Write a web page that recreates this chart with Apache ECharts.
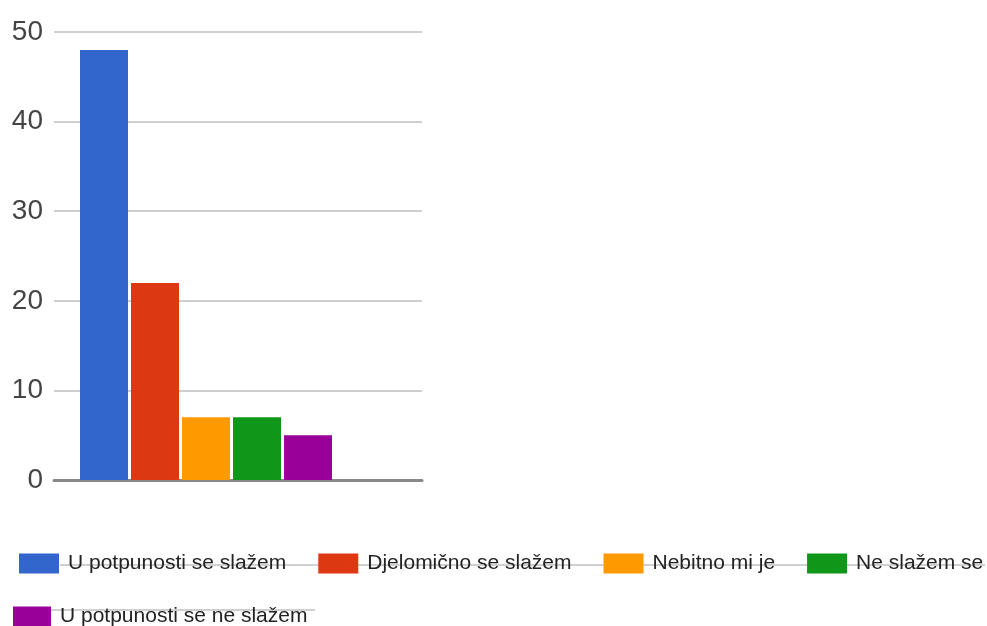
<!DOCTYPE html>
<html><head><meta charset="utf-8">
<script src="https://cdn.jsdelivr.net/npm/echarts@6/dist/echarts.min.js"></script>
<style>html,body{margin:0;padding:0;background:#fff}#c{width:987px;height:626px}</style>
</head><body><div id="c"></div>
<script>
const seriesNames = ['U potpunosti se slažem', 'Djelomično se slažem', 'Nebitno mi je', 'Ne slažem se', 'U potpunosti se ne slažem'];
const seriesValues = [48, 22, 7, 7, 5];
const seriesColors = ['#3366cc', '#dc3912', '#ff9900', '#109618', '#990099'];
const categories = [''];
const yTicks = [0, 10, 20, 30, 40, 50];

const chart = echarts.init(document.getElementById('c'));
const font = 'Arial, "Liberation Sans", sans-serif';
const yBase = {
  type: 'value', min: yTicks[0], max: yTicks[yTicks.length - 1], interval: yTicks[1] - yTicks[0],
  axisLine: {show: false}, axisTick: {show: false},
  splitLine: {lineStyle: {color: '#cfcfcf', width: 2}}
};
const legendText = {fontSize: 21, color: '#222', fontFamily: font, padding: [0, 0, 0, 4]};
const option = {
  animation: false,
  textStyle: {fontFamily: font},
  grid: [
    {left: 54, right: 629, top: 32, bottom: 146},
    {left: 358, right: 565, top: 32, bottom: 146}
  ],
  xAxis: [
    {type: 'category', data: categories, gridIndex: 0, axisTick: {show: false}, axisLabel: {show: false},
     axisLine: {lineStyle: {color: '#888', width: 3}}},
    {type: 'category', data: categories, gridIndex: 1, axisTick: {show: false}, axisLabel: {show: false},
     axisLine: {lineStyle: {color: '#888', width: 3}}}
  ],
  yAxis: [
    Object.assign({}, yBase, {gridIndex: 0, axisLabel: {fontSize: 28, color: '#444', margin: 11, fontFamily: font}}),
    Object.assign({}, yBase, {gridIndex: 1, axisLabel: {show: false}})
  ],
  legend: [
    {data: seriesNames.slice(0, 4), left: 19, top: 553, padding: 0, itemWidth: 40, itemHeight: 20, itemGap: 32,
     icon: 'rect', textStyle: legendText},
    {data: seriesNames.slice(4), left: 13, top: 606, padding: 0, itemWidth: 38, itemHeight: 20, itemGap: 32,
     icon: 'rect', textStyle: legendText}
  ],
  graphic: [
    {type: 'line', z: -10, shape: {x1: 60, y1: 565, x2: 985, y2: 565}, style: {stroke: '#d0d0d0', lineWidth: 2}},
    {type: 'line', z: -10, shape: {x1: 51, y1: 610, x2: 315, y2: 610}, style: {stroke: '#d0d0d0', lineWidth: 2}}
  ],
  series: seriesNames.map((n, i) => ({
    name: n, type: 'bar', xAxisIndex: 0, yAxisIndex: 0,
    data: [seriesValues[i]], barWidth: 48, barGap: '6.25%',
    itemStyle: {color: seriesColors[i]}
  }))
};
chart.setOption(option);
</script></body></html>
